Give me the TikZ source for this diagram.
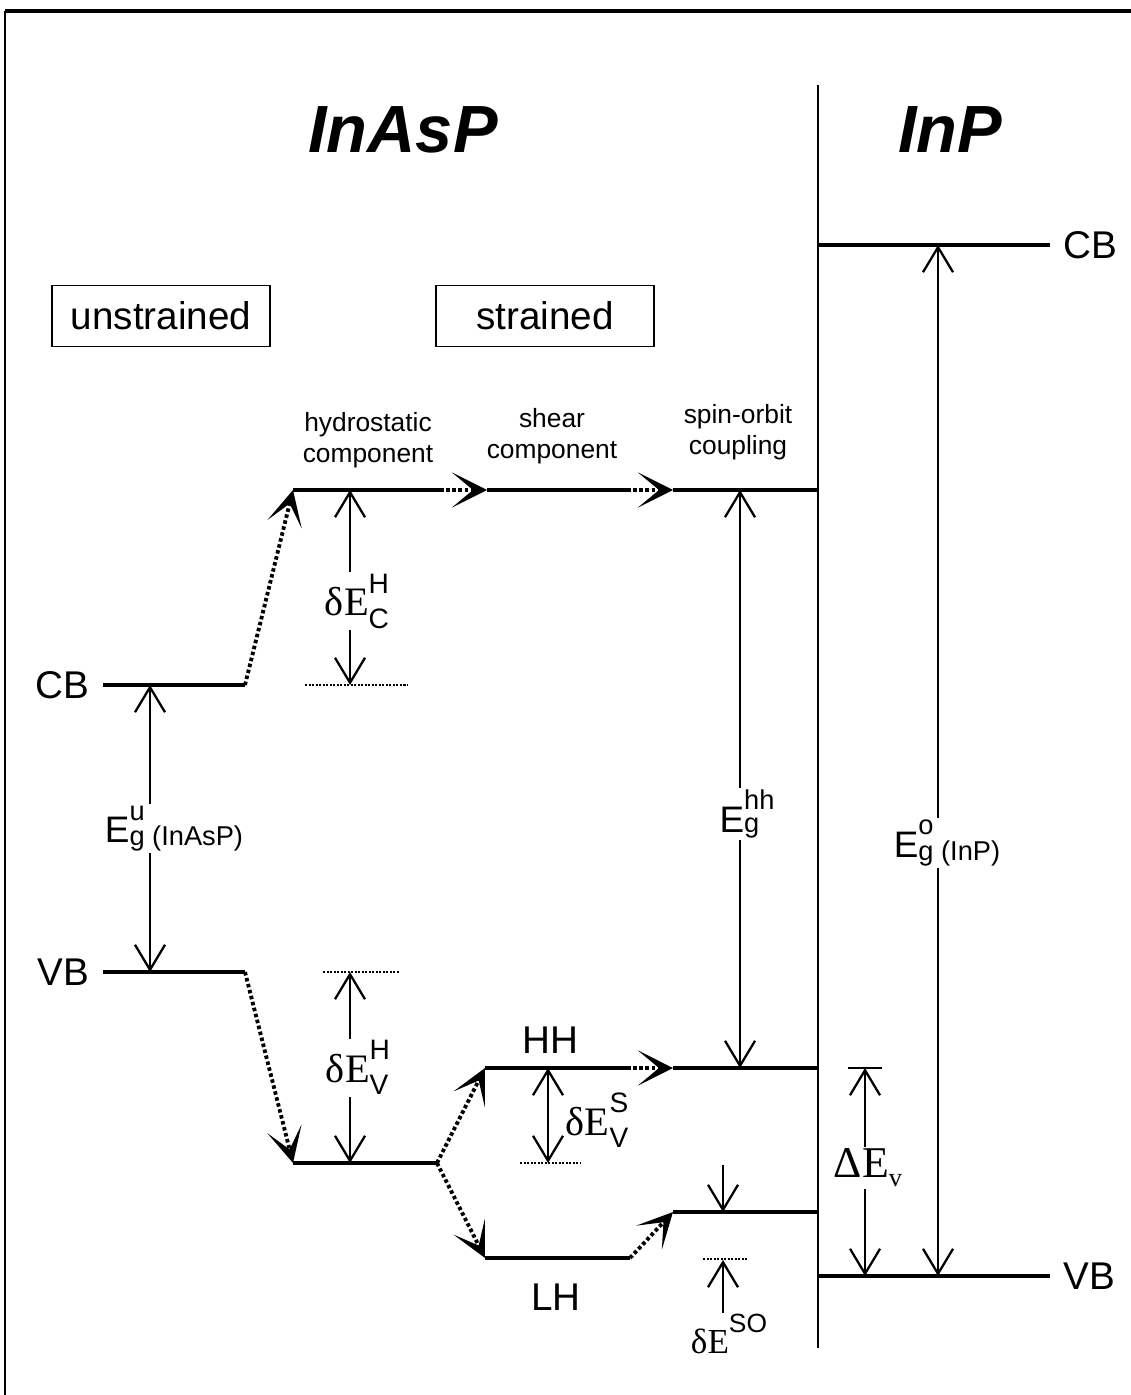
\documentclass[tikz,border=0pt]{standalone}
\usepackage{fontspec}
\setmainfont{Liberation Sans}
\newfontfamily\tmsfont{Liberation Serif}
\usetikzlibrary{arrows.meta,positioning}

% raised and lowered index pair, one above the other
\newcommand{\supsub}[5]{%
  {\fontsize{#1}{#1}\selectfont
  \setbox0=\hbox{\raisebox{#2}{#4}}%
  \setbox2=\hbox{\raisebox{-#3}{#5}}%
  \ifdim\wd0>\wd2 \rlap{\box2}\box0\else\rlap{\box0}\box2\fi}}

\begin{document}
\begin{tikzpicture}[
  x=0.02cm, y=-0.02cm,
  level/.style={line width=2.3pt},
  trans/.style={line width=2.2pt, dash pattern=on 2pt off 1.5pt, -{Stealth[length=7mm, width=7mm, inset=4.2mm]}},
  gap/.style={line width=1.3pt, {Straight Barb[length=5mm, width=6mm]}-{Straight Barb[length=5mm, width=6mm]}},
  half/.style={line width=1.3pt, -{Straight Barb[length=5mm, width=6mm]}},
  ref/.style={line width=1.2pt, dash pattern=on 1.2pt off 0.8pt},
  band/.style={font=\fontsize{22}{22}\selectfont, inner sep=2pt},
  title/.style={font=\fontsize{38}{38}\selectfont\bfseries\itshape},
  tag/.style={draw, line width=1.1pt, minimum width=4.36cm, minimum height=1.22cm, font=\fontsize{22}{22}\selectfont},
  note/.style={align=center, font=\fontsize{15}{18}\selectfont},
  gaplabel/.style={fill=white, inner sep=1pt, font=\fontsize{23}{23}\selectfont}
]
\useasboundingbox (0,0) rectangle (1131,1395);

% frame and interface
\coordinate (ftl) at (5,11);
\coordinate (ftr) at (1131,11);
\coordinate (fbl) at (5,1395);
\draw[line width=2.3pt] (ftl) -- (ftr);
\draw[line width=1.4pt] (ftl) -- (fbl);
\coordinate (septop) at (818,85);
\coordinate (sepbot) at (818,1348);
\draw[line width=0.6pt] (septop) -- (sepbot);

\node[title] (inasp) at (403,130) {InAsP};
\node[title] (inp) at (950,130) {InP};
\node[tag] (unstr) at (161,316) {unstrained};
\node[tag] (str) at (545,316) {strained};
\node[note] (hydro) at (368,440) {hydrostatic\\component};
\node[note] (shear) at (552,436) {shear\\component};
\node[note] (spin) at (738,432) {spin-orbit\\coupling};

% band levels
\coordinate (cbu0) at (103,685);  \coordinate (cbu1) at (245,685);
\coordinate (vbu0) at (103,972);  \coordinate (vbu1) at (245,972);
\coordinate (cbh0) at (293,490);  \coordinate (cbh1) at (440,490);
\coordinate (cbs0) at (487,490);  \coordinate (cbs1) at (627,490);
\coordinate (cbo0) at (673,490);  \coordinate (cbo1) at (818,490);
\coordinate (vbh0) at (293,1163); \coordinate (vbh1) at (437,1163);
\coordinate (hh0) at (485,1068);  \coordinate (hh1) at (627,1068);
\coordinate (hho0) at (673,1068); \coordinate (hho1) at (818,1068);
\coordinate (lh0) at (485,1258);  \coordinate (lh1) at (630,1258);
\coordinate (lho0) at (673,1212); \coordinate (lho1) at (818,1212);
\coordinate (cbp0) at (818,245);  \coordinate (cbp1) at (1050,245);
\coordinate (vbp0) at (818,1276); \coordinate (vbp1) at (1050,1276);

\draw[level] (cbu0) -- (cbu1);
\draw[level] (vbu0) -- (vbu1);
\draw[trans] (cbu1) -- (cbh0);
\draw[level] (cbh0) -- (cbh1);
\draw[trans] (cbh1) -- (cbs0);
\draw[level] (cbs0) -- (cbs1);
\draw[trans] (cbs1) -- (cbo0);
\draw[level] (cbo0) -- (cbo1);
\draw[trans] (vbu1) -- (vbh0);
\draw[level] (vbh0) -- (vbh1);
\draw[trans] (vbh1) -- (hh0);
\draw[trans] (vbh1) -- (lh0);
\draw[level] (hh0) -- (hh1);
\draw[trans] (hh1) -- (hho0);
\draw[level] (hho0) -- (hho1);
\draw[level] (lh0) -- (lh1);
\draw[trans] (lh1) -- (lho0);
\draw[level] (lho0) -- (lho1);
\draw[level] (cbp0) -- (cbp1);
\draw[level] (vbp0) -- (vbp1);

\node[band, left=0.2cm of cbu0] (cbl) {CB};
\node[band, left=0.2cm of vbu0] (vbl) {VB};
\node[band, right=0.2cm of cbp1] (cbr) {CB};
\node[band, right=0.2cm of vbp1] (vbr) {VB};
\node[band] (hhl) at (550,1040) {HH};
\node[band] (lhl) at (556,1297) {LH};

% gaps and shifts
\coordinate (egutop) at (150,685); \coordinate (egubot) at (150,972);
\draw[gap] (egutop) -- node[gaplabel, xshift=0.48cm, font=\fontsize{21}{21}\selectfont]
  {E\supsub{15.5}{13pt}{1.5pt}{u}{g (InAsP)}} (egubot);
\coordinate (egotop) at (938,245); \coordinate (egobot) at (938,1276);
\draw[gap] (egotop) -- node[gaplabel, pos=0.58, xshift=0.18cm, font=\fontsize{21}{21}\selectfont]
  {E\supsub{15.5}{13pt}{1.5pt}{o}{g (InP)}} (egobot);
\coordinate (ehhtop) at (740,490); \coordinate (ehhbot) at (740,1068);
\draw[gap] (ehhtop) -- node[gaplabel, pos=0.56, xshift=0.14cm, font=\fontsize{21}{21}\selectfont]
  {E\supsub{15.5}{13pt}{0pt}{hh}{g}} (ehhbot);

\coordinate (dhctop) at (350,490); \coordinate (dhcbot) at (350,685);
\coordinate (dhcl) at (305,685);   \coordinate (dhcr) at (407,685);
\draw[ref] (dhcl) -- (dhcr);
\draw[gap] (dhctop) -- node[gaplabel, pos=0.57, xshift=0.14cm]
  {{\tmsfont δE}\supsub{16}{13pt}{7pt}{H}{C}} (dhcbot);

\coordinate (dhvtop) at (350,972); \coordinate (dhvbot) at (350,1163);
\coordinate (dhvl) at (323,972);   \coordinate (dhvr) at (400,972);
\draw[ref] (dhvl) -- (dhvr);
\draw[gap] (dhvtop) -- node[gaplabel, pos=0.5, xshift=0.16cm]
  {{\tmsfont δE}\supsub{16}{13pt}{7pt}{H}{V}} (dhvbot);

\coordinate (dsvtop) at (548,1068); \coordinate (dsvbot) at (548,1163);
\coordinate (dsvl) at (520,1163);   \coordinate (dsvr) at (580,1163);
\draw[ref] (dsvl) -- (dsvr);
\draw[gap] (dsvtop) -- node[gaplabel, right=0.3cm, pos=0.55]
  {{\tmsfont δE}\supsub{16}{13pt}{7pt}{S}{V}} (dsvbot);

\coordinate (dsoa) at (723,1165); \coordinate (dsob) at (723,1212);
\coordinate (dsoc) at (723,1313); \coordinate (dsod) at (723,1260);
\coordinate (dsol) at (703,1259); \coordinate (dsor) at (747,1259);
\draw[ref] (dsol) -- (dsor);
\draw[half] (dsoa) -- (dsob);
\draw[half] (dsoc) -- (dsod);
\node[font=\fontsize{20}{20}\selectfont, inner sep=1pt] (dsolab) at (729,1334)
  {{\tmsfont δE}\supsub{15}{12pt}{0pt}{SO}{}};

\coordinate (devl) at (848,1068); \coordinate (devr) at (882,1068);
\coordinate (devtop) at (865,1068); \coordinate (devbot) at (865,1276);
\draw[line width=1.3pt] (devl) -- (devr);
\draw[gap] (devtop) -- node[gaplabel, pos=0.48, xshift=0.06cm, font=\fontsize{25}{25}\selectfont]
  {\tmsfont ΔE\raisebox{-5pt}{\fontsize{15}{15}\selectfont v}} (devbot);
\end{tikzpicture}
\end{document}
